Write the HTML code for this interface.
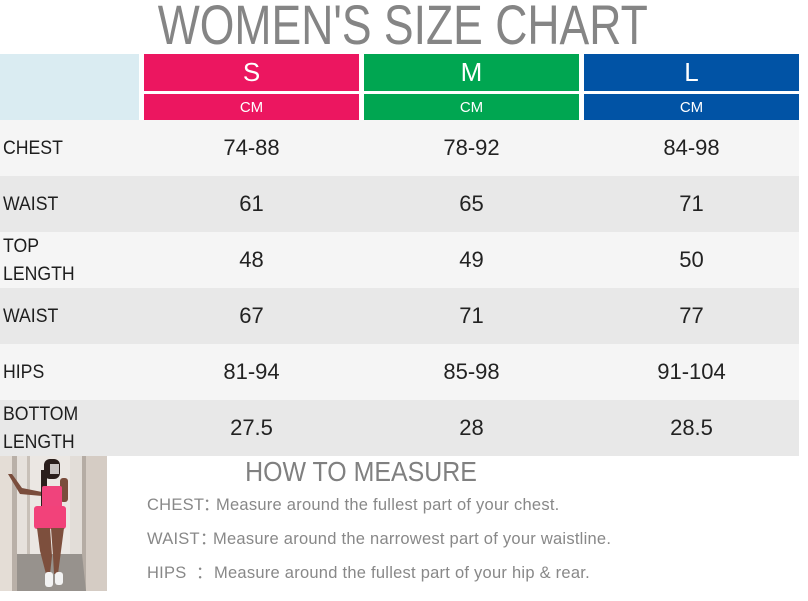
<!DOCTYPE html>
<html>
<head>
<meta charset="utf-8">
<style>
  html,body{margin:0;padding:0;background:#fff;}
  body{width:808px;height:601px;position:relative;overflow:hidden;font-family:"Liberation Sans","Noto Sans CJK SC",sans-serif;}
  .a{position:absolute;white-space:nowrap;}
  .title{left:0;width:808px;text-align:center;top:-3px;font-size:56px;line-height:56px;color:#858585;transform:scaleX(0.795);transform-origin:398px 0;}
  .hdr{position:absolute;}
  .big{position:absolute;width:100%;text-align:center;font-size:26px;line-height:26px;color:#fff;top:5px;}
  .cm{position:absolute;width:100%;text-align:center;font-size:15px;line-height:15px;color:#fff;top:6px;}
  .row{position:absolute;left:0;width:799px;height:56px;}
  .l{background:#f5f5f5;}
  .d{background:#e8e8e8;}
  .lab{position:absolute;left:3px;font-size:19px;line-height:19px;color:#1e1e1e;transform:scaleX(0.93);transform-origin:0 0;}
  .val{position:absolute;width:215px;text-align:center;font-size:22px;line-height:22px;color:#222;}
  .how{left:0;width:722px;text-align:center;top:458px;font-size:28px;line-height:28px;color:#808080;}
  .ins{position:absolute;font-size:16.5px;line-height:16.5px;color:#888;white-space:nowrap;letter-spacing:0.25px;}
</style>
</head>
<body>
<div class="a title">WOMEN'S SIZE CHART</div>

<!-- header -->
<div class="hdr" style="left:0;top:54px;width:139px;height:66px;background:#daecf2;"></div>
<div class="hdr" style="left:144px;top:54px;width:215px;height:37px;background:#ec1660;"><div class="big">S</div></div>
<div class="hdr" style="left:364px;top:54px;width:215px;height:37px;background:#00a651;"><div class="big">M</div></div>
<div class="hdr" style="left:584px;top:54px;width:215px;height:37px;background:#0153a5;"><div class="big">L</div></div>
<div class="hdr" style="left:144px;top:94px;width:215px;height:26px;background:#ec1660;"><div class="cm">CM</div></div>
<div class="hdr" style="left:364px;top:94px;width:215px;height:26px;background:#00a651;"><div class="cm">CM</div></div>
<div class="hdr" style="left:584px;top:94px;width:215px;height:26px;background:#0153a5;"><div class="cm">CM</div></div>

<!-- rows -->
<div class="row l" style="top:120px;">
  <div class="lab" style="top:19px;">CHEST</div>
  <div class="val" style="left:144px;top:17px;">74-88</div>
  <div class="val" style="left:364px;top:17px;">78-92</div>
  <div class="val" style="left:584px;top:17px;">84-98</div>
</div>
<div class="row d" style="top:176px;">
  <div class="lab" style="top:19px;">WAIST</div>
  <div class="val" style="left:144px;top:17px;">61</div>
  <div class="val" style="left:364px;top:17px;">65</div>
  <div class="val" style="left:584px;top:17px;">71</div>
</div>
<div class="row l" style="top:232px;">
  <div class="lab" style="top:5px;">TOP</div>
  <div class="lab" style="top:33px;">LENGTH</div>
  <div class="val" style="left:144px;top:17px;">48</div>
  <div class="val" style="left:364px;top:17px;">49</div>
  <div class="val" style="left:584px;top:17px;">50</div>
</div>
<div class="row d" style="top:288px;">
  <div class="lab" style="top:19px;">WAIST</div>
  <div class="val" style="left:144px;top:17px;">67</div>
  <div class="val" style="left:364px;top:17px;">71</div>
  <div class="val" style="left:584px;top:17px;">77</div>
</div>
<div class="row l" style="top:344px;">
  <div class="lab" style="top:19px;">HIPS</div>
  <div class="val" style="left:144px;top:17px;">81-94</div>
  <div class="val" style="left:364px;top:17px;">85-98</div>
  <div class="val" style="left:584px;top:17px;">91-104</div>
</div>
<div class="row d" style="top:400px;">
  <div class="lab" style="top:5px;">BOTTOM</div>
  <div class="lab" style="top:33px;">LENGTH</div>
  <div class="val" style="left:144px;top:17px;">27.5</div>
  <div class="val" style="left:364px;top:17px;">28</div>
  <div class="val" style="left:584px;top:17px;">28.5</div>
</div>

<!-- photo -->
<svg style="position:absolute;left:0;top:456px;" width="107" height="135" viewBox="0 0 107 135">
  <rect width="107" height="135" fill="#d9d2cb"/>
  <rect x="0" y="0" width="12" height="135" fill="#e4ddd6"/>
  <rect x="12" y="0" width="5" height="135" fill="#b9b0a8"/>
  <rect x="17" y="0" width="10" height="135" fill="#e6e1dc"/>
  <rect x="27" y="0" width="3" height="120" fill="#c8c0b8"/>
  <rect x="30" y="0" width="40" height="100" fill="#ebe7e3"/>
  <rect x="70" y="0" width="12" height="100" fill="#e2ddd8"/>
  <rect x="82" y="0" width="4" height="135" fill="#b5aca4"/>
  <rect x="86" y="0" width="21" height="135" fill="#d5ccc4"/>
  <polygon points="17,135 17,98 82,98 86,135" fill="#97928d"/>
  <!-- arm -->
  <polygon points="8,18 12,18 22,32 42,36 42,40 20,38" fill="#7a4d3c"/>
  <!-- hair -->
  <rect x="44" y="3" width="16" height="20" rx="6" fill="#2a1e1b"/>
  <rect x="41" y="14" width="6" height="40" fill="#2a1e1b"/>
  <rect x="50" y="8" width="9" height="10" fill="#c9c4c2"/>
  <!-- right arm -->
  <rect x="60" y="22" width="8" height="24" rx="3" fill="#7a4d3c"/>
  <!-- top -->
  <rect x="42" y="30" width="20" height="22" rx="2" fill="#f0437c"/>
  <!-- shorts -->
  <rect x="34" y="50" width="32" height="23" rx="3" fill="#f2427a"/>
  <!-- legs -->
  <polygon points="37,72 50,72 52,100 50,118 46,118 40,95" fill="#7d4f3d"/>
  <polygon points="51,72 64,72 61,95 58,118 54,118 53,100" fill="#7d4f3d"/>
  <!-- shoes -->
  <rect x="45" y="116" width="8" height="15" rx="3" fill="#f2f2f2"/>
  <rect x="55" y="116" width="8" height="13" rx="3" fill="#f2f2f2"/>
</svg>

<!-- how to measure -->
<div class="a how" style="transform:scaleX(0.89);transform-origin:361px 0;">HOW TO MEASURE</div>

<div class="ins" style="left:147px;top:497px;">CHEST</div>
<div class="ins" style="left:203px;top:497px;">：</div>
<div class="ins" style="left:216px;top:497px;">Measure around the fullest part of your chest.</div>

<div class="ins" style="left:147px;top:531px;">WAIST</div>
<div class="ins" style="left:200px;top:531px;">：</div>
<div class="ins" style="left:213px;top:531px;">Measure around the narrowest part of your waistline.</div>

<div class="ins" style="left:147px;top:565px;">HIPS</div>
<div class="ins" style="left:196px;top:565px;">：</div>
<div class="ins" style="left:214px;top:565px;">Measure around the fullest part of your hip &amp; rear.</div>
</body>
</html>
